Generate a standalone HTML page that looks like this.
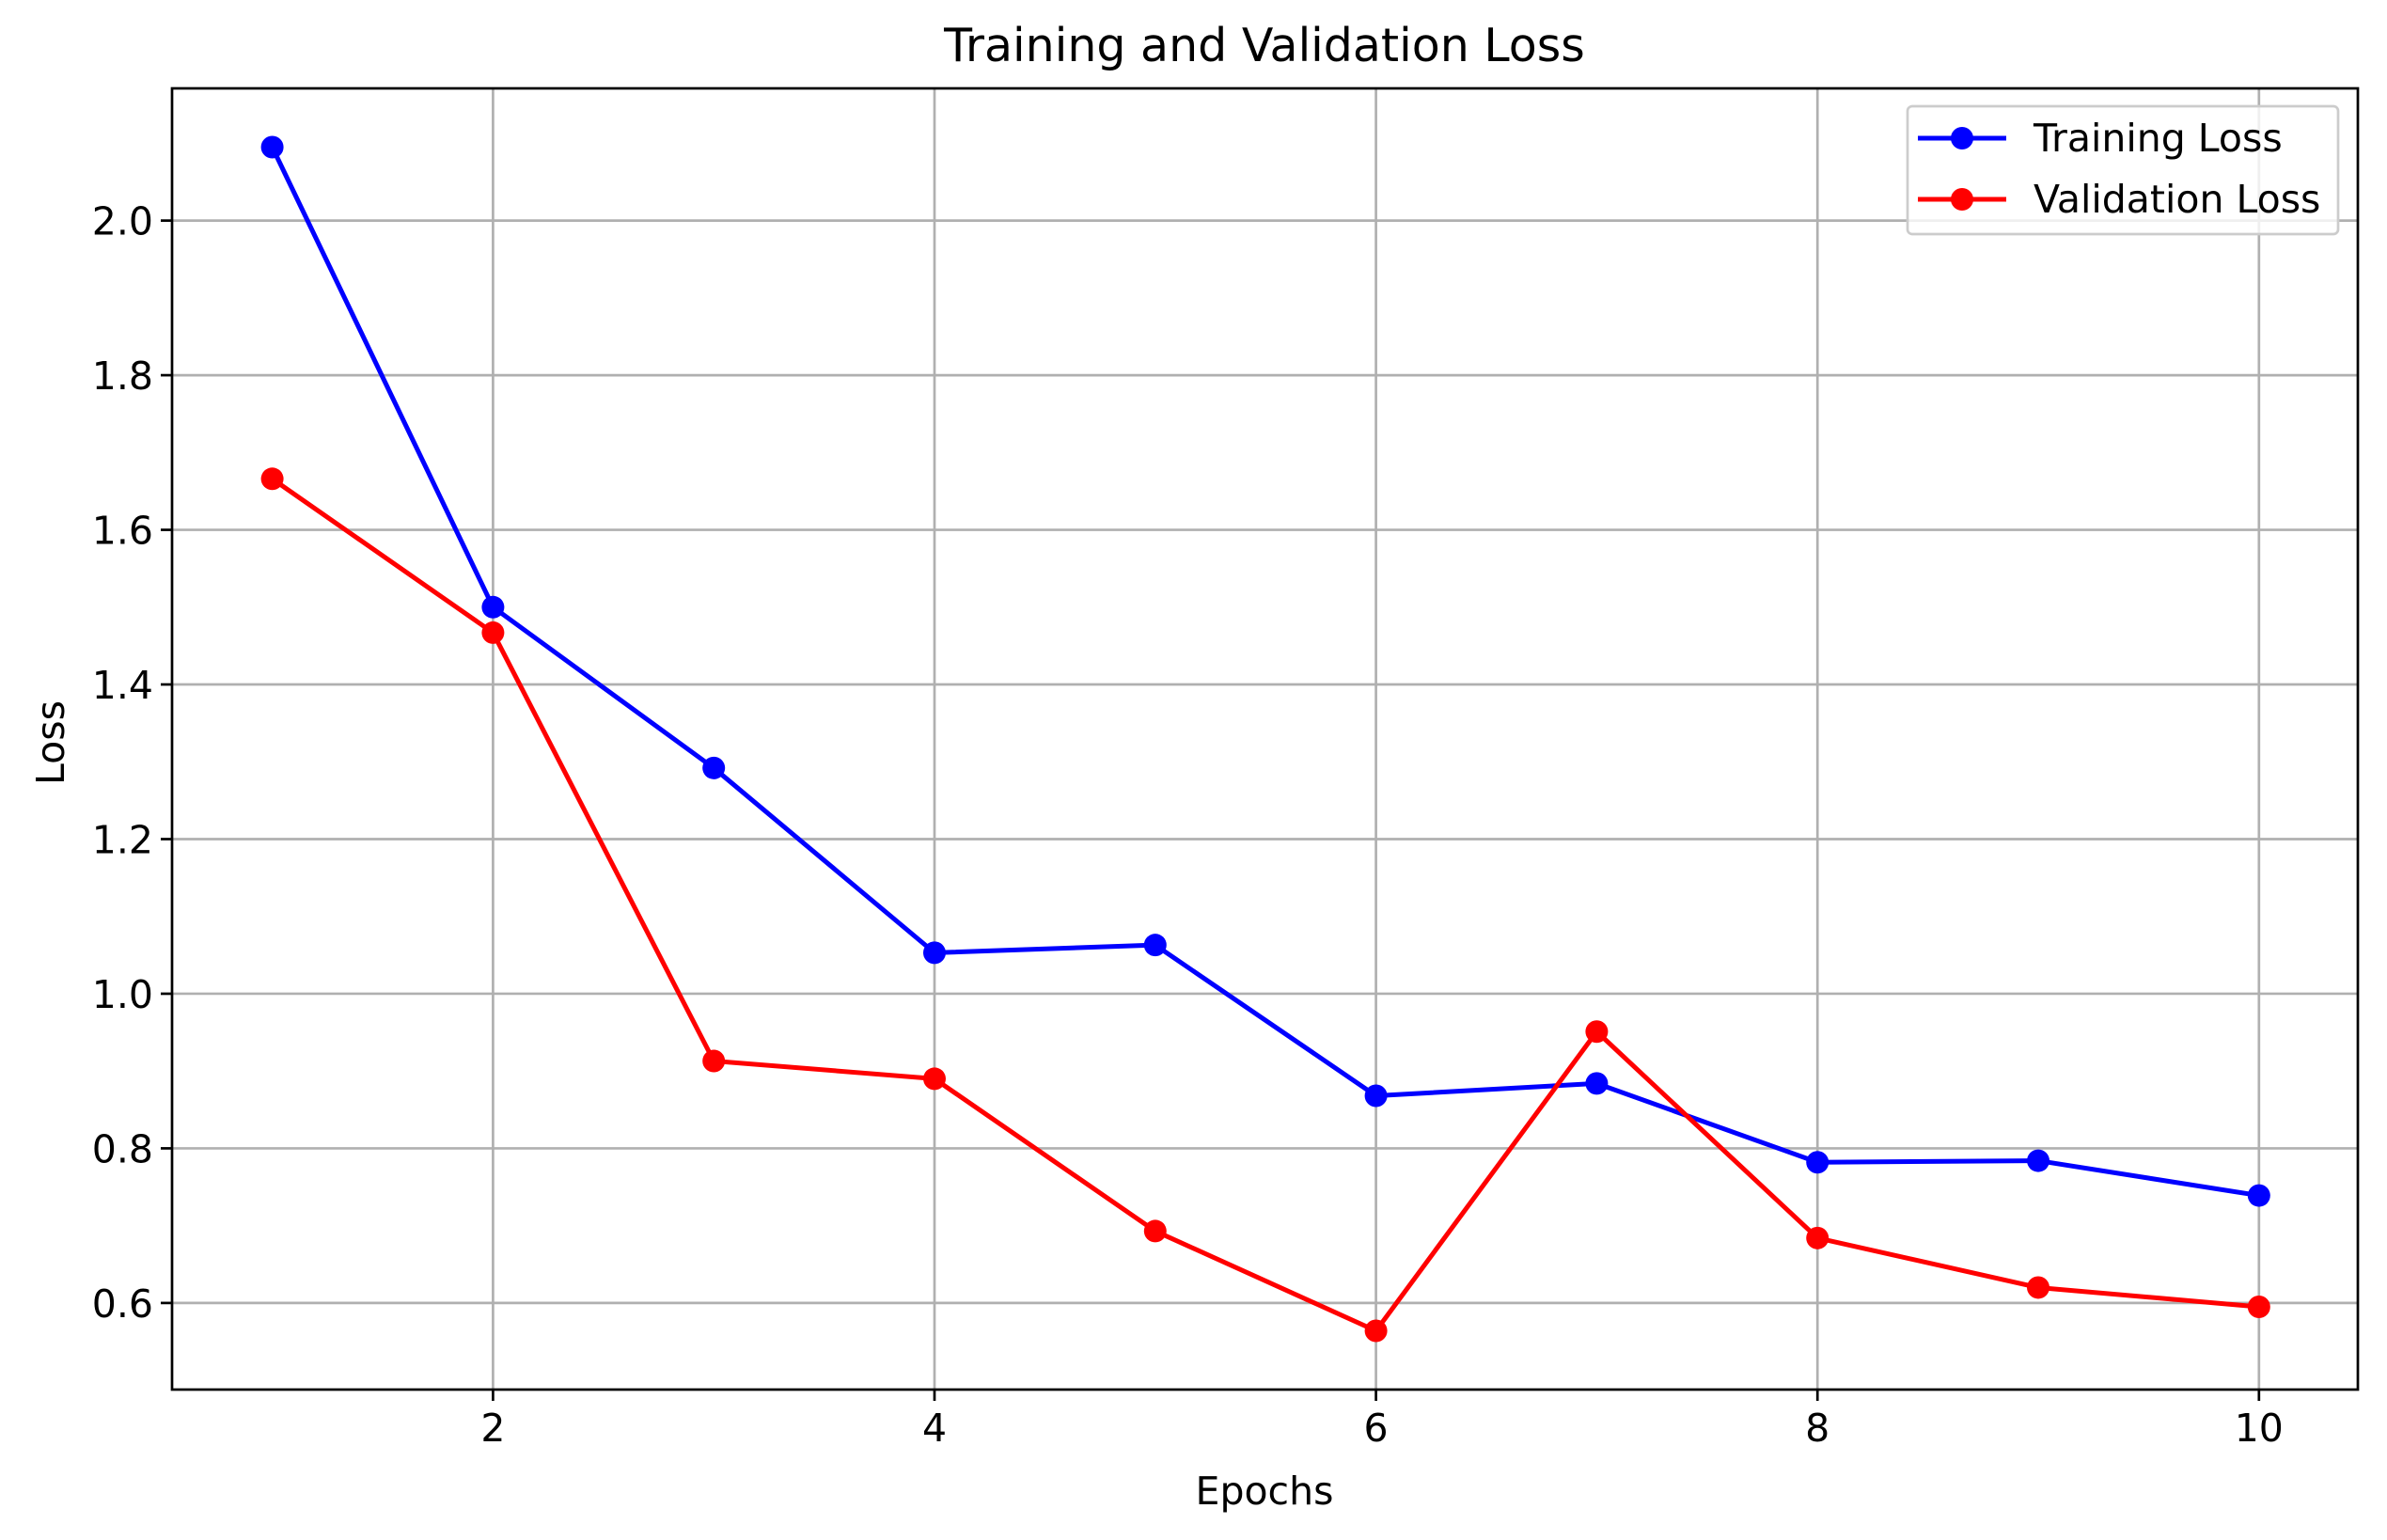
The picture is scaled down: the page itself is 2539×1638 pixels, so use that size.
<!DOCTYPE html>
<html><head><meta charset="utf-8"><style>
html,body{margin:0;padding:0;background:#fff;}
svg{display:block;font-family:"DejaVu Sans","Liberation Sans",sans-serif;}
</style></head><body>
<svg id="chart" width="2539" height="1638" viewBox="0 0 2539 1638">
<g id="grid"></g>
<g id="series"></g>
<rect x="183" y="94" width="2325" height="1384" fill="none" stroke="#000" stroke-width="2.7"/>
<g id="ticks"></g>
<text x="1345" y="65" font-size="49" text-anchor="middle">Training and Validation Loss</text>
<text x="1345" y="1600" font-size="41" text-anchor="middle">Epochs</text>
<text x="0" y="0" font-size="41" text-anchor="middle" transform="translate(68,790) rotate(-90)">Loss</text>
<g>
<rect x="2029" y="113" width="458" height="136" rx="5" fill="#fff" fill-opacity="0.8" stroke="#ccc" stroke-width="2.7"/>
<g>
<line x1="2040" y1="147" x2="2134" y2="147" stroke="#0000ff" stroke-width="5"/>
<circle cx="2087" cy="147" r="12" fill="#0000ff"/>
<text x="2163" y="161" font-size="41">Training Loss</text></g>
<g>
<line x1="2040" y1="212" x2="2134" y2="212" stroke="#ff0000" stroke-width="5"/>
<circle cx="2087" cy="212" r="12" fill="#ff0000"/>
<text x="2163" y="226" font-size="41">Validation Loss</text></g>
</g>
</svg>
<script>
const epochs=[1,2,3,4,5,6,7,8,9,10];
const trainLoss=[2.095,1.500,1.292,1.053,1.063,0.868,0.884,0.782,0.784,0.739];
const valLoss=[1.666,1.467,0.913,0.890,0.693,0.564,0.951,0.684,0.620,0.595];
const xTicks=[2,4,6,8,10];
const yTicks=[0.6,0.8,1.0,1.2,1.4,1.6,1.8,2.0];
const X0=183,X1=2508,Y0=94,Y1=1478,xmin=0.546,xmax=10.448,ymin=0.488,ymax=2.171;
function sx(v){return X0+(v-xmin)/(xmax-xmin)*(X1-X0);}
function sy(v){return Y1-(v-ymin)/(ymax-ymin)*(Y1-Y0);}
const NS="http://www.w3.org/2000/svg";
function mk(t,a,p){const e=document.createElementNS(NS,t);for(const k in a)e.setAttribute(k,a[k]);p.appendChild(e);return e;}
const grid=document.getElementById('grid'),ticks=document.getElementById('ticks'),ser=document.getElementById('series');
xTicks.forEach(v=>{const x=sx(v);
 const g=mk('line',{x1:x,x2:x,y1:Y0,y2:Y1,stroke:'#b0b0b0','stroke-width':2.7},grid);
 
 
 mk('line',{x1:x,x2:x,y1:Y1,y2:Y1+12,stroke:'#000','stroke-width':2.7},ticks);
 const t=mk('text',{x:x,y:Y1+55,'font-size':41,'text-anchor':'middle'},ticks);t.textContent=v;
 
 
});
yTicks.forEach(v=>{const y=sy(v);
 const g=mk('line',{x1:X0,x2:X1,y1:y,y2:y,stroke:'#b0b0b0','stroke-width':2.7},grid);
 
 
 mk('line',{x1:X0-12,x2:X0,y1:y,y2:y,stroke:'#000','stroke-width':2.7},ticks);
 const t=mk('text',{x:X0-20,y:y+15,'font-size':41,'text-anchor':'end'},ticks);t.textContent=v.toFixed(1);
 
 
});
function draw(vals,color,name){
 const pts=epochs.map((e,i)=>sx(e)+','+sy(vals[i])).join(' ');
 const l=mk('polyline',{points:pts,fill:'none',stroke:color,'stroke-width':5,'stroke-linejoin':'round'},ser);
 
 
 epochs.forEach((e,i)=>{const c=mk('circle',{cx:sx(e),cy:sy(vals[i]),r:12,fill:color},ser);
  
  
 });
}
draw(trainLoss,'#0000ff','training-loss');
draw(valLoss,'#ff0000','validation-loss');
</script>
</body></html>
